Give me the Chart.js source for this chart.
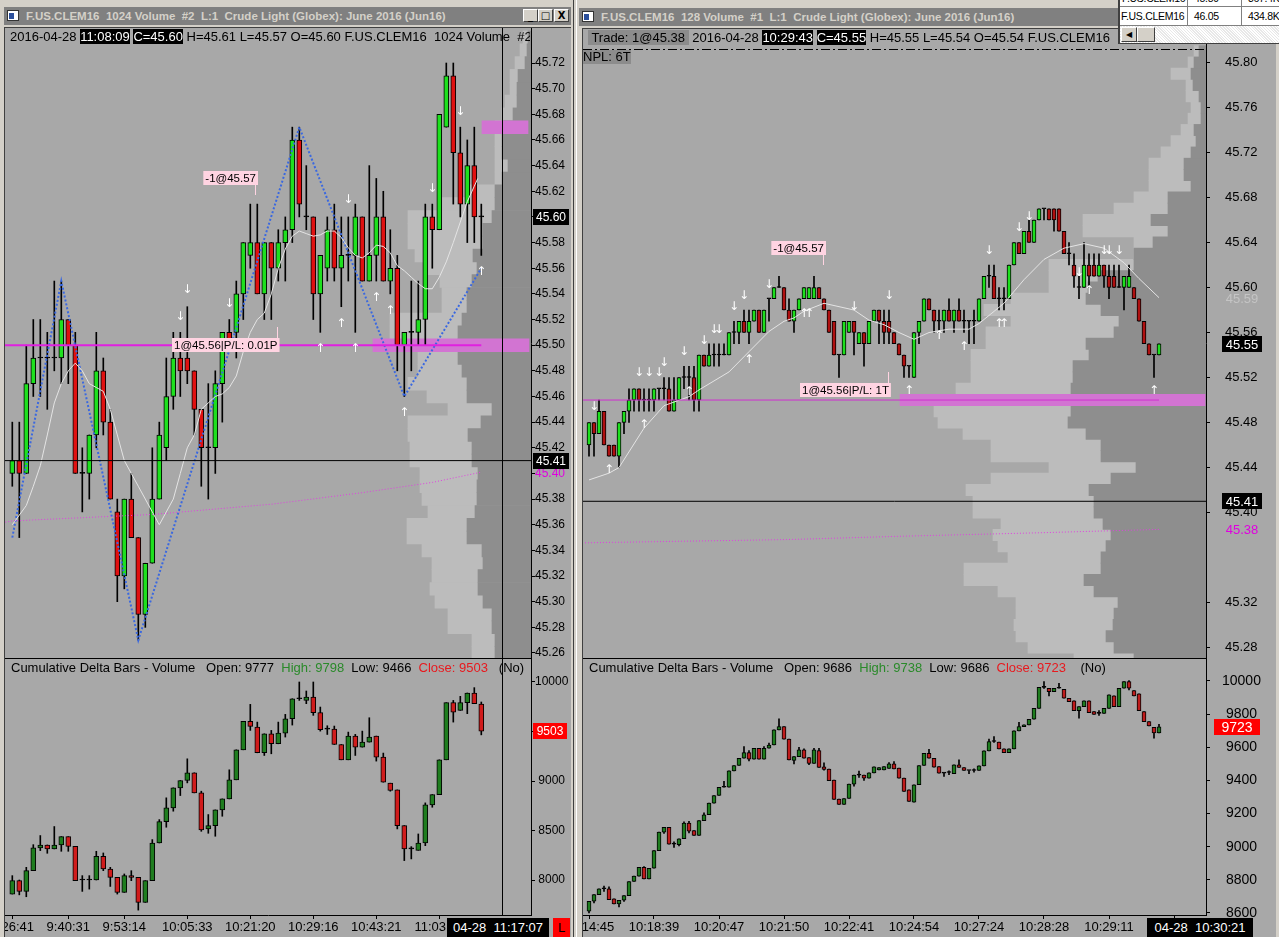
<!DOCTYPE html>
<html><head><meta charset="utf-8">
<script src="https://cdn.jsdelivr.net/npm/chart.js@4.4.1/dist/chart.umd.min.js"></script>
<style>
body{margin:0;width:1279px;height:937px;overflow:hidden;background:#d4d0c8;font-family:'Liberation Sans',Arial,sans-serif;position:relative}
.abs{position:absolute}
canvas{position:absolute}
.title{background:#808080;color:#d4d0c8;font-weight:bold;font-size:11.5px;line-height:18px;white-space:pre;overflow:hidden}
.ico{position:absolute;left:3px;top:3px;width:12px;height:11px;background:#fff;border:1px solid #333;box-sizing:border-box}
.ico:after{content:'';position:absolute;left:1px;top:2px;width:5px;height:6px;background:#2b4f9c}
.btn{position:absolute;top:2px;width:15px;height:13px;background:#d4d0c8;border:1px solid;border-color:#fff #404040 #404040 #fff;box-sizing:border-box;color:#000;font:bold 10px 'DejaVu Sans';text-align:center;line-height:11px}
.hdr{font-size:13px;line-height:16px;white-space:pre;overflow:hidden;color:#000}
.blk{background:#000;color:#fff}
.gbx{background:#8c8c8c}
.gr{color:#2a8a2a}.rd{color:#e8191e}
.tbox{background:#000;color:#fff;font-size:13px;line-height:19px;white-space:pre;text-align:center}
.cell{position:absolute;line-height:17px;font-size:10.5px;letter-spacing:-0.3px;white-space:pre}
</style></head><body>
<script>
// ===================== DATA =====================
// Left chart: F.US.CLEM16 1024 Volume — price candles
const lpO=[45.40,45.41,45.40,45.47,45.49,45.49,45.49,45.49,45.52,45.50,45.40,45.40,45.43,45.48,45.44,45.37,45.32,45.38,45.35,45.29,45.33,45.38,45.42,45.46,45.49,45.49,45.48,45.45,45.42,45.42,45.47,45.51,45.51,45.54,45.57,45.58,45.54,45.58,45.56,45.58,45.59,45.66,45.60,45.60,45.54,45.56,45.59,45.56,45.57,45.57,45.60,45.55,45.57,45.60,45.55,45.56,45.50,45.51,45.51,45.52,45.60,45.59,45.67,45.71,45.65,45.61,45.64,45.60];
const lpH=[45.44,45.44,45.50,45.52,45.52,45.51,45.55,45.55,45.52,45.51,45.42,45.43,45.51,45.49,45.45,45.38,45.38,45.40,45.35,45.33,45.42,45.44,45.49,45.51,45.51,45.53,45.48,45.45,45.47,45.48,45.51,45.52,45.55,45.58,45.61,45.61,45.58,45.58,45.59,45.60,45.67,45.67,45.64,45.60,45.57,45.60,45.61,45.60,45.60,45.61,45.60,45.64,45.63,45.62,45.59,45.57,45.51,45.55,45.55,45.61,45.61,45.68,45.72,45.72,45.67,45.66,45.67,45.61];
const lpL=[45.39,45.35,45.40,45.46,45.46,45.45,45.48,45.47,45.47,45.40,45.37,45.38,45.42,45.43,45.38,45.30,45.31,45.35,45.27,45.28,45.33,45.38,45.41,45.45,45.46,45.47,45.43,45.39,45.38,45.40,45.44,45.50,45.49,45.52,45.56,45.54,45.52,45.52,45.55,45.55,45.58,45.60,45.59,45.52,45.51,45.55,45.55,45.53,45.55,45.51,45.55,45.55,45.55,45.55,45.54,45.48,45.46,45.48,45.50,45.50,45.56,45.59,45.67,45.61,45.60,45.58,45.58,45.57];
const lpC=[45.41,45.40,45.47,45.49,45.49,45.49,45.49,45.52,45.50,45.40,45.40,45.43,45.48,45.44,45.38,45.32,45.38,45.35,45.29,45.33,45.38,45.43,45.46,45.49,45.48,45.48,45.45,45.42,45.42,45.47,45.51,45.50,45.54,45.58,45.58,45.54,45.58,45.56,45.58,45.59,45.66,45.61,45.60,45.54,45.57,45.59,45.56,45.57,45.57,45.60,45.55,45.57,45.60,45.55,45.56,45.50,45.51,45.51,45.52,45.60,45.59,45.68,45.71,45.65,45.61,45.64,45.60,45.60];
// Left chart: cumulative delta candles
const ldO=[7858,7993,7885,8094,8324,8354,8314,8354,8438,8340,8000,8000,8000,8239,8111,8027,7875,8044,8027,7774,7993,8374,8590,8728,8931,9005,9083,8880,8516,8550,8708,8819,9012,9315,9602,9545,9285,9477,9376,9484,9629,9831,9814,9848,9690,9524,9524,9369,9214,9454,9342,9393,9454,9241,8978,8910,8550,8314,8300,8374,8759,8863,9214,9791,9713,9791,9889,9777];
const ldH=[8044,8000,8128,8357,8449,8354,8540,8438,8438,8340,8044,8044,8290,8273,8128,8027,8061,8094,8027,7993,8408,8610,8830,8931,9005,9224,9083,8897,8661,8708,8819,9113,9315,9602,9774,9595,9477,9511,9595,9673,9831,10000,9909,10000,9747,9558,9555,9369,9494,9471,9504,9639,9454,9282,8978,8910,8550,8337,8465,8779,8863,9214,9791,9814,9855,9889,9943,9798];
const ldL=[7858,7850,7831,8094,8297,8270,8314,8290,8290,7993,7885,7908,8000,8094,7935,7858,7875,7993,7696,7774,7993,8374,8533,8695,8853,8981,8880,8492,8472,8442,8644,8819,9012,9315,9511,9285,9258,9275,9376,9444,9565,9814,9781,9663,9504,9470,9369,9214,9214,9258,9342,9393,9201,8988,8897,8516,8196,8213,8300,8347,8735,8863,9214,9595,9713,9680,9781,9466];
const ldC=[7993,7885,8094,8324,8354,8314,8354,8438,8340,7993,8000,8000,8239,8111,8027,7875,8044,8027,7774,7993,8374,8590,8728,8931,9005,9083,8880,8506,8550,8708,8819,9012,9315,9602,9551,9285,9477,9376,9484,9629,9831,9831,9848,9690,9518,9524,9369,9214,9454,9342,9393,9444,9241,8988,8904,8550,8314,8314,8374,8759,8863,9214,9791,9696,9791,9889,9781,9503];
// Left overlays
const lMaIdx=[0,2,3,4,5,6,7,8,9,10,11,12,13,14,15,16,17,18,19,20,21,22,23,24,25,26,27,28,29,30,31,32,33,34,35,36,37,38,39,40,41,42,43,44,45,46,47,48,49,50,51,52,53,54,55,56,57,58,59,60,61,62,63,64,65,66,66.5];
const lMaVal=[45.36,45.375,45.39,45.406,45.43,45.455,45.47,45.48,45.486,45.48,45.47,45.467,45.464,45.45,45.43,45.41,45.40,45.39,45.38,45.37,45.36,45.37,45.38,45.40,45.42,45.43,45.45,45.455,45.46,45.462,45.467,45.476,45.495,45.51,45.52,45.525,45.54,45.56,45.575,45.585,45.589,45.587,45.585,45.586,45.589,45.589,45.584,45.576,45.57,45.568,45.572,45.578,45.577,45.572,45.562,45.558,45.553,45.548,45.544,45.544,45.553,45.565,45.58,45.596,45.612,45.624,45.63];
const lZigIdx=[0,7,18,41,56,67];
const lZigVal=[45.35,45.55,45.27,45.67,45.46,45.56];
const lVwapIdx=[-1,0,20,37,50,60,67];
const lVwapVal=[45.362,45.363,45.368,45.376,45.385,45.393,45.401];
const lLastPrice=45.41, lEntry=45.50, lEntryEnd=67, lCursorIdx=70;
const lDownIdx=[24,25,31,48,60,64], lDownP=[45.522,45.543,45.532,45.613,45.622,45.682];
const lUpIdx=[44,47,49,52,54,56,67], lUpP=[45.497,45.517,45.497,45.537,45.527,45.447,45.557];
const lTagText=['-1@45.57','1@45.56|P/L: 0.01P'], lTagIdx=[35.1,22.8], lTagP=[45.630,45.50], lTagSide=['right','left'], lTagStem=['down','up'];
const lpTicks=[45.26,45.28,45.30,45.32,45.34,45.36,45.38,45.40,45.42,45.44,45.46,45.48,45.50,45.52,45.54,45.56,45.58,45.60,45.62,45.64,45.66,45.68,45.70,45.72];
const ldTicks=[8000,8500,9000,9500,10000];
const lTimeIdx=[0,8,16,25,34,43,52,61];
const lTimeLbl=['9:26:41','9:40:31','9:53:14','10:05:33','10:21:20','10:29:16','10:43:21','11:03:47'];
// Left volume profile (price level, total volume, inner volume)
const lpfP=[45.26,45.27,45.28,45.29,45.30,45.31,45.32,45.33,45.34,45.35,45.36,45.37,45.38,45.39,45.40,45.41,45.42,45.43,45.44,45.45,45.46,45.47,45.48,45.49,45.50,45.51,45.52,45.53,45.54,45.55,45.56,45.57,45.58,45.59,45.60,45.61,45.62,45.63,45.64,45.65,45.66,45.67,45.68,45.69,45.70,45.71,45.72,45.73,45.74];
const lpfTot=[590,590,830,830,960,1010,990,990,1090,1240,1240,1030,1090,1110,1110,1210,1210,1230,1230,830,1040,1230,1130,1130,1410,1410,1410,890,890,910,1030,1160,1230,1230,1230,910,640,360,360,360,360,360,290,260,210,210,160,110,80];
const lpfIn=[360,360,390,390,480,530,530,480,490,640,640,560,540,540,530,590,590,630,500,390,640,640,690,730,730,730,690,640,640,590,540,580,480,480,390,360,360,290,230,290,290,290,180,140,140,130,60,40,30];
const lPocP=[45.50,45.67], lPocFrom=[20,30], lPocTo=[1580,490];

// Right chart: F.US.CLEM16 128 Volume — price candles
const rpO=[45.46,45.48,45.47,45.49,45.46,45.46,45.45,45.48,45.49,45.50,45.51,45.50,45.50,45.50,45.51,45.51,45.51,45.49,45.50,45.52,45.52,45.52,45.50,45.54,45.53,45.54,45.54,45.54,45.54,45.56,45.56,45.57,45.56,45.57,45.58,45.56,45.59,45.59,45.60,45.60,45.58,45.57,45.58,45.59,45.59,45.59,45.60,45.59,45.58,45.57,45.54,45.54,45.56,45.57,45.55,45.56,45.55,45.57,45.58,45.57,45.57,45.56,45.55,45.54,45.53,45.52,45.56,45.57,45.59,45.58,45.57,45.57,45.58,45.57,45.58,45.57,45.57,45.57,45.57,45.59,45.61,45.61,45.59,45.59,45.59,45.62,45.64,45.63,45.65,45.64,45.66,45.67,45.67,45.67,45.67,45.65,45.63,45.62,45.60,45.60,45.62,45.62,45.61,45.62,45.61,45.61,45.60,45.60,45.60,45.60,45.59,45.57,45.55,45.54,45.54];
const rpH=[45.48,45.48,45.50,45.49,45.46,45.46,45.48,45.49,45.51,45.51,45.51,45.51,45.51,45.51,45.51,45.52,45.52,45.52,45.52,45.53,45.53,45.53,45.54,45.54,45.55,45.55,45.55,45.55,45.56,45.57,45.57,45.58,45.58,45.58,45.58,45.58,45.59,45.60,45.61,45.60,45.59,45.58,45.59,45.60,45.60,45.61,45.60,45.59,45.58,45.57,45.54,45.57,45.57,45.57,45.56,45.56,45.57,45.58,45.58,45.58,45.58,45.56,45.55,45.54,45.53,45.56,45.57,45.59,45.59,45.58,45.58,45.58,45.59,45.58,45.59,45.58,45.57,45.58,45.59,45.61,45.62,45.62,45.60,45.60,45.62,45.64,45.64,45.65,45.66,45.66,45.67,45.67,45.67,45.67,45.67,45.65,45.64,45.63,45.61,45.64,45.63,45.63,45.63,45.62,45.62,45.62,45.62,45.61,45.62,45.60,45.59,45.57,45.55,45.54,45.55];
const rpL=[45.45,45.45,45.47,45.46,45.45,45.45,45.44,45.47,45.48,45.49,45.49,45.49,45.49,45.49,45.50,45.50,45.49,45.49,45.50,45.51,45.50,45.49,45.49,45.53,45.53,45.53,45.53,45.54,45.54,45.55,45.55,45.56,45.55,45.57,45.56,45.56,45.57,45.59,45.60,45.58,45.57,45.56,45.58,45.59,45.59,45.59,45.59,45.58,45.56,45.54,45.52,45.54,45.56,45.54,45.55,45.53,45.55,45.57,45.55,45.55,45.55,45.55,45.54,45.52,45.52,45.52,45.55,45.57,45.58,45.56,45.56,45.56,45.57,45.56,45.57,45.56,45.55,45.55,45.57,45.59,45.60,45.59,45.58,45.58,45.59,45.62,45.63,45.63,45.64,45.64,45.66,45.66,45.66,45.65,45.65,45.63,45.62,45.60,45.59,45.60,45.60,45.61,45.61,45.60,45.59,45.60,45.60,45.58,45.60,45.59,45.57,45.55,45.54,45.52,45.54];
const rpC=[45.48,45.47,45.49,45.46,45.45,45.45,45.48,45.49,45.50,45.51,45.50,45.50,45.50,45.51,45.51,45.51,45.49,45.50,45.52,45.52,45.52,45.50,45.54,45.53,45.54,45.54,45.54,45.54,45.56,45.56,45.57,45.56,45.57,45.58,45.56,45.58,45.59,45.60,45.60,45.58,45.57,45.58,45.59,45.60,45.60,45.60,45.59,45.58,45.56,45.54,45.54,45.57,45.57,45.56,45.56,45.55,45.57,45.58,45.57,45.56,45.56,45.55,45.54,45.53,45.53,45.56,45.57,45.59,45.58,45.57,45.57,45.58,45.57,45.58,45.57,45.57,45.57,45.57,45.59,45.61,45.61,45.59,45.59,45.59,45.62,45.64,45.63,45.65,45.64,45.66,45.67,45.67,45.66,45.66,45.65,45.63,45.63,45.61,45.60,45.62,45.61,45.61,45.62,45.61,45.60,45.60,45.60,45.61,45.61,45.59,45.57,45.55,45.54,45.54,45.55];
// Right chart: cumulative delta candles
const rdO=[8611,8671,8711,8746,8746,8685,8655,8677,8705,8790,8822,8876,8806,8870,8976,9088,9117,9016,9012,9048,9143,9097,9068,9157,9193,9263,9309,9359,9359,9458,9490,9534,9568,9528,9594,9528,9594,9614,9705,9725,9649,9520,9544,9584,9538,9502,9580,9482,9468,9402,9287,9255,9291,9378,9432,9432,9414,9446,9464,9464,9472,9500,9474,9414,9343,9269,9374,9490,9564,9534,9484,9444,9448,9440,9494,9478,9460,9460,9460,9488,9578,9635,9631,9590,9568,9590,9699,9725,9735,9769,9835,9962,9956,9936,9956,9950,9896,9880,9821,9845,9880,9815,9805,9805,9835,9910,9845,9956,9996,9942,9922,9815,9755,9721,9686];
const rdH=[8671,8711,8746,8762,8758,8685,8677,8705,8790,8822,8876,8880,8870,8976,9088,9117,9117,9030,9048,9150,9153,9097,9157,9205,9263,9309,9359,9394,9458,9490,9534,9604,9580,9594,9594,9604,9625,9705,9771,9725,9649,9544,9600,9590,9538,9594,9594,9506,9468,9402,9287,9291,9378,9432,9456,9432,9446,9482,9478,9484,9508,9514,9474,9414,9343,9374,9490,9564,9588,9534,9484,9444,9458,9494,9524,9478,9460,9470,9488,9578,9649,9665,9631,9590,9590,9699,9751,9735,9769,9835,9962,9996,9956,9956,9986,9950,9896,9880,9845,9880,9880,9815,9821,9835,9916,9910,9956,9996,10002,9942,9922,9815,9755,9721,9738];
const rdL=[8600,8660,8711,8730,8681,8655,8637,8670,8705,8790,8822,8806,8806,8870,8976,9080,9016,8996,9005,9048,9083,9068,9068,9157,9193,9263,9309,9359,9359,9458,9490,9534,9518,9528,9528,9528,9594,9614,9705,9649,9524,9500,9544,9534,9495,9502,9478,9462,9398,9285,9255,9255,9291,9366,9418,9400,9414,9446,9464,9464,9472,9470,9414,9333,9273,9269,9374,9490,9534,9480,9444,9424,9434,9440,9478,9460,9440,9450,9460,9488,9578,9630,9590,9568,9568,9590,9699,9725,9735,9769,9835,9955,9910,9936,9956,9896,9876,9821,9775,9845,9809,9799,9793,9805,9835,9845,9845,9956,9946,9910,9821,9755,9729,9655,9686];
const rdC=[8671,8711,8746,8746,8681,8655,8677,8705,8790,8822,8876,8806,8870,8976,9088,9117,9016,9016,9048,9143,9093,9068,9157,9193,9263,9309,9359,9359,9458,9490,9534,9568,9528,9594,9528,9594,9614,9705,9725,9649,9524,9544,9584,9534,9502,9584,9478,9466,9398,9285,9255,9291,9378,9432,9432,9414,9446,9482,9478,9484,9500,9470,9414,9333,9273,9374,9490,9564,9534,9480,9444,9444,9448,9494,9478,9460,9460,9460,9488,9578,9635,9635,9590,9568,9590,9699,9725,9735,9769,9835,9962,9962,9936,9956,9956,9896,9876,9821,9845,9880,9809,9799,9805,9835,9916,9845,9956,9996,9956,9910,9821,9755,9729,9686,9723];
// Right overlays
const rMaIdx=[0,4,6,11,15,20,22,28,32,36,39,41,43,47,49,53,56,59,62,65,68,72,76,78,83,87,91,95,99,103,107,110,114];
const rMaVal=[45.429,45.435,45.44,45.475,45.495,45.503,45.509,45.525,45.543,45.561,45.57,45.573,45.579,45.586,45.584,45.58,45.571,45.567,45.56,45.554,45.56,45.563,45.563,45.568,45.586,45.607,45.625,45.635,45.639,45.635,45.622,45.608,45.591];
const rVwapIdx=[-2,40,63,90,114];
const rVwapVal=[45.373,45.376,45.379,45.382,45.385];
const rLastPrice=45.41, rEntry=45.50, rEntryEnd=114;
const rDownIdx=[1,10,12,14,15,19,23,25,26,29,31,36,53,60,80,86,88,98,103,104,106];
const rDownP=[45.494,45.524,45.524,45.524,45.533,45.543,45.553,45.562,45.562,45.583,45.593,45.602,45.583,45.593,45.633,45.653,45.663,45.613,45.633,45.633,45.633];
const rUpIdx=[4,11,20,32,43,44,64,70,75,82,83,100,113];
const rUpP=[45.438,45.478,45.507,45.536,45.577,45.577,45.508,45.557,45.547,45.568,45.568,45.597,45.508];
const rTagText=['-1@45.57','1@45.56|P/L: 1T'], rTagIdx=[47.4,42.2], rTagP=[45.635,45.509], rTagSide=['right','left'], rTagStem=['down','up'];
const rpTicks=[45.28,45.32,45.40,45.44,45.48,45.52,45.56,45.60,45.64,45.68,45.72,45.76,45.80];
const rdTicks=[8600,8800,9000,9200,9400,9600,9800,10000];
const rTimeIdx=[0,13,26,39,52,65,78,91,104,117];
const rTimeLbl=['10:14:45','10:18:39','10:20:47','10:21:50','10:22:41','10:24:54','10:27:24','10:28:28','10:29:11','10:29:58'];
// Right volume profile
const rpfP=[45.27,45.28,45.29,45.30,45.31,45.32,45.33,45.34,45.35,45.36,45.37,45.38,45.39,45.40,45.41,45.42,45.43,45.44,45.45,45.46,45.47,45.48,45.49,45.50,45.51,45.52,45.53,45.54,45.55,45.56,45.57,45.58,45.59,45.60,45.61,45.62,45.63,45.64,45.65,45.66,45.67,45.68,45.69,45.70,45.71,45.72,45.73,45.74,45.75,45.76,45.77,45.78,45.79,45.80,45.81];
const rpfTot=[1320,1780,1900,1920,1900,1900,2080,2420,2420,1980,2080,2130,2050,2330,2330,2400,2150,1570,2150,2150,2430,2680,2720,2600,2500,2350,2350,2350,2200,2200,1950,2220,1950,1570,1570,1570,720,720,1230,1230,920,720,570,570,570,450,350,250,180,150,200,200,350,180,120];
const rpfIn=[720,920,1000,930,920,880,1120,1220,1050,1050,1000,950,1030,1120,1120,1170,950,700,1050,1050,1200,1380,1350,1350,1350,1330,1330,1170,1200,920,870,1050,1200,1180,1080,720,720,530,380,550,380,380,150,220,220,150,100,120,50,50,70,130,150,120,70];
const rPocP=[45.50], rPocFrom=[10], rPocTo=[3060];

// ===================== HELPERS =====================
Chart.defaults.font.family="'Liberation Sans', Arial, sans-serif";
Chart.defaults.color='#000';
const L={xmin:-1.043,xmax:74.1}, R={xmin:-1.2,xmax:123.4};

function candles(O,H,L_,C,up,down,bodyW){
  return [
    {type:'bar',data:O.map((o,i)=>({x:i,y:[L_[i],H[i]]})),backgroundColor:'#000',borderWidth:0,barThickness:1,minBarLength:1,grouped:false,order:3},
    {type:'bar',data:O.map((o,i)=>({x:i,y:[Math.min(o,C[i]),Math.max(o,C[i])]})),
     backgroundColor:O.map((o,i)=>C[i]>o?up:(C[i]<o?down:'#000')),borderColor:'#000',borderWidth:1,borderSkipped:false,
     barThickness:bodyW,minBarLength:1,grouped:false,order:2}
  ];
}
function line(xs,ys,color,w,dash){
  return {type:'line',data:xs.map((x,k)=>({x,y:ys[k]})),borderColor:color,borderWidth:w,borderDash:dash||[],pointRadius:0,tension:0,fill:false,order:1};
}
function overlay(cfg){
  return {id:'ov',
    afterDatasetsDraw(chart){
      const {ctx,chartArea:a}=chart, xs=chart.scales.x, ys=chart.scales.y;
      ctx.save();
      ctx.beginPath();ctx.rect(a.left,a.top,a.right-a.left,a.bottom-a.top);ctx.clip();
      if(cfg.vline!=null){const px=Math.round(xs.getPixelForValue(cfg.vline))+0.5;ctx.strokeStyle='#000';ctx.lineWidth=1;ctx.beginPath();ctx.moveTo(px,a.top);ctx.lineTo(px,a.bottom);ctx.stroke();}
      if(cfg.down){
        ctx.font='12px "DejaVu Sans"';ctx.fillStyle='#fff';ctx.textAlign='center';ctx.textBaseline='middle';
        cfg.down[0].forEach((i,k)=>ctx.fillText('↓',xs.getPixelForValue(i),ys.getPixelForValue(cfg.down[1][k])));
        cfg.up[0].forEach((i,k)=>ctx.fillText('↑',xs.getPixelForValue(i),ys.getPixelForValue(cfg.up[1][k])));
      }
      if(cfg.tags){
        const [tx,ti,tp,ts,st]=cfg.tags;
        ctx.font='11.5px "Liberation Sans"';ctx.textBaseline='middle';ctx.textAlign='left';
        tx.forEach((t,k)=>{
          const w=ctx.measureText(t).width+4,h=14;
          const px=Math.round(xs.getPixelForValue(ti[k])),py=Math.round(ys.getPixelForValue(tp[k]));
          const left=ts[k]==='right'?px-w:px;
          ctx.fillStyle='#ffd4e2';ctx.fillRect(left,py-h/2,w,h);
          ctx.strokeStyle='#ffd4e2';ctx.lineWidth=1;ctx.beginPath();
          const sx=Math.round(left+w-3)+0.5;
          if(st[k]==='down'){ctx.moveTo(sx,py+h/2);ctx.lineTo(sx,py+h/2+10);}else{ctx.moveTo(sx,py-h/2);ctx.lineTo(sx,py-h/2-11);}
          ctx.stroke();
          ctx.fillStyle='#000';ctx.fillText(t,left+2,py+1);
        });
      }
      ctx.restore();
    },
    afterDraw(chart){
      const {ctx}=chart, ys=chart.scales.y;
      ctx.save();
      (cfg.marks||[]).forEach(m=>{
        const py=Math.round(ys.getPixelForValue(m.v));
        ctx.font=cfg.markFont;ctx.textAlign='center';ctx.textBaseline='middle';
        if(m.bg){ctx.fillStyle=m.bg;ctx.fillRect(ys.left+cfg.boxL,py-8,cfg.boxW,16);}
        ctx.fillStyle=m.fg;ctx.fillText(m.text,ys.left+cfg.boxL+cfg.boxW/2,py+1);
      });
      ctx.restore();
    }
  };
}
function yAxis(min,max,ticks,axW,fmt,pad,size,colorFn){
  return {type:'linear',position:'right',min,max,
    afterBuildTicks:s=>{s.ticks=ticks.map(v=>({value:v}));},
    afterFit:s=>{s.width=axW;s.paddingTop=0;s.paddingBottom=0;},
    ticks:{autoSkip:false,crossAlign:'center',padding:pad,font:{size},color:colorFn||'#000',callback:fmt},
    grid:{drawOnChartArea:false,tickLength:4,color:'#000'},border:{display:true,color:'#000'}};
}
function xAxis(r,shown,idx,lbl){
  const ax={type:'linear',min:r.xmin,max:r.xmax,offset:false,grid:{offset:false,drawOnChartArea:false,tickLength:4,color:'#000'},display:shown};
  if(shown){
    ax.afterBuildTicks=s=>{s.ticks=idx.map(v=>({value:v}));};
    ax.afterFit=s=>{s.height=22;s.paddingLeft=0;s.paddingRight=0;};
    ax.ticks={autoSkip:false,maxRotation:0,minRotation:0,padding:1,font:{size:13},callback:(v,i)=>lbl[i]};
    ax.border={display:true,color:'#000'};
  }
  return ax;
}
function base(extra){
  return Object.assign({responsive:false,animation:false,events:[],layout:{padding:0},plugins:{legend:{display:false},tooltip:{enabled:false}}},extra);
}
function profile(id,P,T,I,pocP,pocF,pocT,ymin,ymax,vmax){
  const common={grouped:false,categoryPercentage:1,barPercentage:1,borderWidth:0};
  new Chart(document.getElementById(id),{type:'bar',data:{datasets:[
    Object.assign({data:P.map((p,k)=>({y:p,x:T[k]})),backgroundColor:'#bcbcbc',order:3},common),
    Object.assign({data:P.map((p,k)=>({y:p,x:I[k]})),backgroundColor:'#8e8e8e',order:2},common),
    Object.assign({data:pocP.map((p,k)=>({y:p,x:[pocF[k],pocT[k]]})),backgroundColor:'#d274d2',order:1},common)
  ]},options:base({indexAxis:'y',scales:{
    y:{type:'linear',min:ymin,max:ymax,display:false,offset:false},
    x:{type:'linear',min:0,max:vmax,reverse:true,display:false}}})});
}
</script>

<!-- LEFT WINDOW -->
<div class="abs" style="left:0;top:0;width:573px;height:937px;background:#d4d0c8;border-right:1px solid #404040"></div>
<div class="abs title" style="left:4px;top:7px;width:567px;height:18px"><span class="ico"></span><span style="position:absolute;left:22px">F.US.CLEM16  1024 Volume  #2  L:1  Crude Light (Globex): June 2016 (Jun16)</span>
<div class="btn" style="left:519px">_</div><div class="btn" style="left:534px">□</div><div class="btn" style="left:550px">X</div></div>
<div class="abs" style="left:4px;top:27px;width:567px;height:910px;background:#a8a8a8;border-left:1px solid #404040;border-top:1px solid #404040;box-sizing:border-box"></div>
<canvas id="lprof" width="526" height="630" style="left:5px;top:28px"></canvas>
<canvas id="lprice" width="566" height="630" style="left:5px;top:28px"></canvas>
<canvas id="ldelta" width="566" height="279" style="left:5px;top:658px"></canvas>
<div class="abs" style="left:5px;top:658px;width:526px;height:1px;background:#000"></div>
<div class="abs hdr" style="left:10px;top:29px;width:520px;height:16px">2016-04-28 <span class="blk">11:08:09</span> <span class="blk">C=45.60</span> H=45.61 L=45.57 O=45.60 F.US.CLEM16  1024 Volume  #2</div>
<div class="abs hdr" style="left:11px;top:660px;width:515px;height:16px">Cumulative Delta Bars - Volume   Open: 9777  <span class="gr">High: 9798</span>  Low: 9466  <span class="rd">Close: 9503</span>   (No)</div>
<div class="abs tbox" style="left:447px;top:918px;width:102px;height:19px">04-28  11:17:07</div>
<div class="abs" style="left:553px;top:918px;width:17px;height:19px;background:#f00;color:#000;font-size:13px;line-height:19px;text-align:center">L</div>

<!-- RIGHT WINDOW -->
<div class="abs" style="left:576px;top:0;width:703px;height:937px;background:#d4d0c8;border-left:1px solid #fff"></div>
<div class="abs title" style="left:579px;top:8px;width:600px;height:18px"><span class="ico"></span><span style="position:absolute;left:22px">F.US.CLEM16  128 Volume  #1  L:1  Crude Light (Globex): June 2016 (Jun16)</span></div>
<div class="abs" style="left:582px;top:28px;width:694px;height:909px;background:#a8a8a8;border-left:1px solid #404040;border-top:1px solid #404040;box-sizing:border-box"></div>
<canvas id="rprof" width="623" height="630" style="left:583px;top:28px"></canvas>
<canvas id="rprice" width="692" height="630" style="left:583px;top:28px"></canvas>
<canvas id="rdelta" width="692" height="279" style="left:583px;top:658px"></canvas>
<div class="abs" style="left:583px;top:658px;width:623px;height:1px;background:#000"></div>
<svg class="abs" style="left:583px;top:48px" width="623" height="3"><line x1="0" y1="1.5" x2="623" y2="1.5" stroke="#000" stroke-width="1" stroke-dasharray="9,3,2,3"/></svg>
<div class="abs hdr" style="left:588px;top:30px;width:540px;height:16px"><span class="gbx"> Trade: 1@45.38 </span> 2016-04-28 <span class="blk">10:29:43</span> <span class="blk">C=45.55</span> H=45.55 L=45.54 O=45.54 F.US.CLEM16  128 Volume</div>
<div class="abs hdr gbx" style="left:583px;top:50px;width:48px;height:14px;line-height:14px">NPL: 6T</div>
<div class="abs hdr" style="left:589px;top:660px;width:600px;height:16px">Cumulative Delta Bars - Volume   Open: 9686  <span class="gr">High: 9738</span>  Low: 9686  <span class="rd">Close: 9723</span>    (No)</div>
<div class="abs tbox" style="left:1147px;top:918px;width:106px;height:19px">04-28  10:30:21</div>

<!-- small overlapping window top-right -->
<div class="abs" style="left:1118px;top:0;width:161px;height:43px;background:#fff;border-left:2px solid #404040;border-bottom:1px solid #404040;overflow:hidden">
  <div class="abs" style="left:0;top:-10px;width:161px;height:16px;border-bottom:1px solid #808080"></div>
  <div class="cell" style="left:2px;top:-10px">F.US.CLEM16</div><div class="cell" style="left:74px;top:-10px">45.89</div><div class="cell" style="left:128px;top:-10px">367.4K</div>
  <div class="abs" style="left:0;top:7px;width:161px;height:18px;border-bottom:1px solid #808080"></div>
  <div class="cell" style="left:1px;top:8px">F.US.CLEM16</div>
  <div class="abs" style="left:67px;top:-2px;width:1px;height:27px;background:#808080"></div>
  <div class="cell" style="left:74px;top:8px">46.05</div>
  <div class="abs" style="left:121px;top:-2px;width:1px;height:27px;background:#808080"></div>
  <div class="cell" style="left:128px;top:8px">434.8K</div>
  <div class="abs" style="left:0;top:26px;width:161px;height:17px;background:repeating-linear-gradient(45deg,#e8e8e8 0 1px,#fff 1px 2px)"></div>
  <div class="btn" style="left:1px;top:27px;width:16px;height:15px;font-size:8px;line-height:13px">◀</div>
  <div class="btn" style="left:17px;top:27px;width:18px;height:15px"></div>
</div>

<script>
// ===================== CHARTS =====================
profile('lprof',lpfP,lpfTot,lpfIn,lPocP,lPocFrom,lPocTo,45.2561,45.7473,5260);
new Chart(document.getElementById('lprice'),{type:'bar',data:{datasets:[
  ...candles(lpO,lpH,lpL,lpC,'#1ee01e','#e01010',5),
  line([L.xmin,L.xmax],[lLastPrice,lLastPrice],'#000',1),
  line(lVwapIdx,lVwapVal,'#e040e0',1,[1,2]),
  line([L.xmin,lEntryEnd],[lEntry,lEntry],'#e020e0',2),
  line(lMaIdx,lMaVal,'#e4e4e4',1),
  line(lZigIdx,lZigVal,'#3a68e0',2,[2,2])
]},options:base({scales:{
  x:xAxis(L,false),
  y:yAxis(45.2561,45.7473,lpTicks,40,v=>v.toFixed(2),0,12,c=>(c.tick&&Math.abs(c.tick.value-lVwapVal[lVwapVal.length-1])<0.004)?'#e000e0':'#000')
}}),plugins:[overlay({vline:lCursorIdx,down:[lDownIdx,lDownP],up:[lUpIdx,lUpP],tags:[lTagText,lTagIdx,lTagP,lTagSide,lTagStem],
  markFont:'12px "Liberation Sans"',boxL:2,boxW:36,
  marks:[{v:lpC[lpC.length-1],text:lpC[lpC.length-1].toFixed(2),bg:'#000',fg:'#fff'},{v:lLastPrice,text:lLastPrice.toFixed(2),bg:'#000',fg:'#fff'}]})]});
new Chart(document.getElementById('ldelta'),{type:'bar',data:{datasets:[...candles(ldO,ldH,ldL,ldC,'#1f7d1f','#d01c1c',5)]},
 options:base({scales:{x:xAxis(L,true,lTimeIdx,lTimeLbl),y:yAxis(7646.5,10242.4,ldTicks,40,v=>String(v),0,12)}}),
 plugins:[overlay({vline:lCursorIdx,markFont:'12px "Liberation Sans"',boxL:2,boxW:34,marks:[{v:ldC[ldC.length-1],text:String(ldC[ldC.length-1]),bg:'#ff0000',fg:'#fff'}]})]});

profile('rprof',rpfP,rpfTot,rpfIn,rPocP,rPocFrom,rPocTo,45.2707,45.8307,6230);
new Chart(document.getElementById('rprice'),{type:'bar',data:{datasets:[
  ...candles(rpO,rpH,rpL,rpC,'#1ee01e','#b01010',4),
  line([R.xmin,R.xmax],[rLastPrice,rLastPrice],'#000',1),
  line(rVwapIdx,rVwapVal,'#e040e0',1,[1,2]),
  line([R.xmin,rEntryEnd],[rEntry,rEntry],'#d030d0',1),
  line(rMaIdx,rMaVal,'#e4e4e4',1)
]},options:base({scales:{
  x:xAxis(R,false),
  y:yAxis(45.2707,45.8307,rpTicks,69,v=>v.toFixed(2),15,13)
}}),plugins:[overlay({down:[rDownIdx,rDownP],up:[rUpIdx,rUpP],tags:[rTagText,rTagIdx,rTagP,rTagSide,rTagStem],
  markFont:'13px "Liberation Sans"',boxL:16,boxW:40,
  marks:[{v:rMaVal[rMaVal.length-1],text:rMaVal[rMaVal.length-1].toFixed(2),fg:'#c4c4c4'},
         {v:rpC[rpC.length-1],text:rpC[rpC.length-1].toFixed(2),bg:'#000',fg:'#fff'},
         {v:rLastPrice,text:rLastPrice.toFixed(2),bg:'#000',fg:'#fff'},
         {v:rVwapVal[rVwapVal.length-1],text:rVwapVal[rVwapVal.length-1].toFixed(2),fg:'#e000e0'}]})]});
new Chart(document.getElementById('rdelta'),{type:'bar',data:{datasets:[...candles(rdO,rdH,rdL,rdC,'#1f7d1f','#c01c1c',4)]},
 options:base({scales:{x:xAxis(R,true,rTimeIdx,rTimeLbl),y:yAxis(8587.8,10138.8,rdTicks,69,v=>String(v),12,14)}}),
 plugins:[overlay({markFont:'14px "Liberation Sans"',boxL:8,boxW:46,marks:[{v:rdC[rdC.length-1],text:String(rdC[rdC.length-1]),bg:'#ff0000',fg:'#fff'}]})]});
</script>
</body></html>
